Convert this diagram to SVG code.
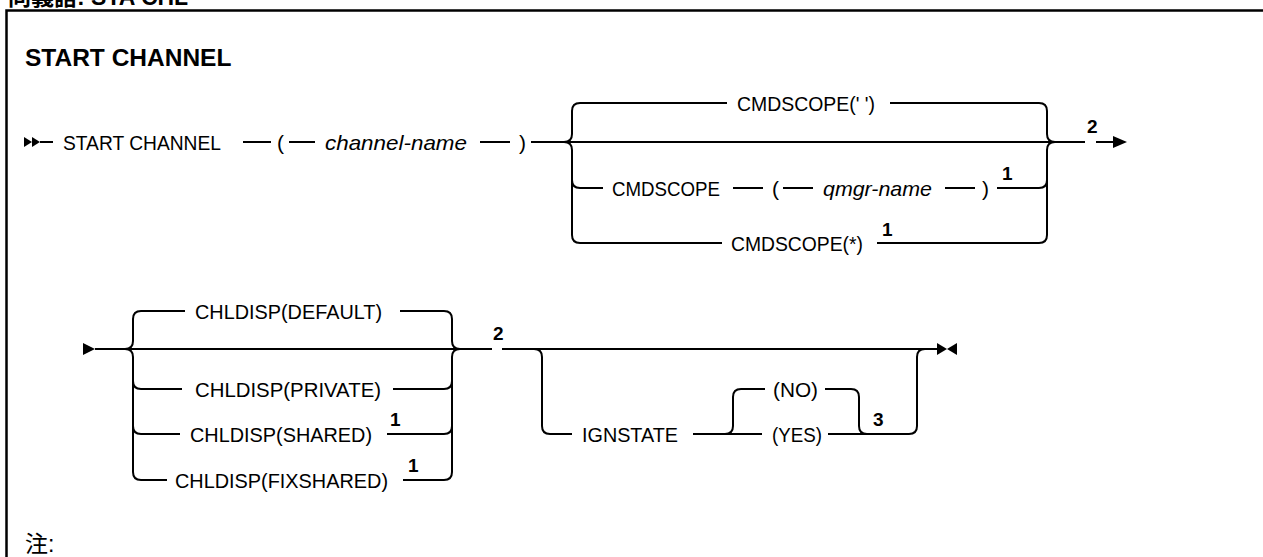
<svg xmlns="http://www.w3.org/2000/svg" width="1263" height="557" viewBox="0 0 1263 557">
<style>
.t{font-family:"Liberation Sans",Arial,sans-serif;font-size:21px;fill:#000}
.i{font-style:italic}
.n{font-family:"Liberation Sans",Arial,sans-serif;font-size:19px;font-weight:bold;fill:#000}
.h{font-family:"Liberation Sans",Arial,sans-serif;font-size:24.5px;font-weight:bold;fill:#000}
.cj{font-family:"Liberation Sans","Noto Sans CJK JP",sans-serif;font-size:23px;fill:#000}
.ln{fill:none;stroke:#000;stroke-width:2}
.fr{fill:none;stroke:#000;stroke-width:2.5}
.mk{fill:#000;stroke:none}
</style>
<rect width="1263" height="557" fill="#fff"/>
<g id="frame">
<text class="cj" x="8" y="5" font-weight="bold">同義語: STA CHL</text>
<path class="fr" d="M6.5,557 V10.5 H1263"/>
<text class="h" x="25" y="66">START CHANNEL</text>
<text class="cj" x="25" y="552">注:</text>
</g>
<g id="connectors">
<polygon class="mk" points="24,137 32,142 24,147"/>
<polygon class="mk" points="32,137 40,142 32,147"/>
<path class="ln" d="M40,142 H53"/>
<path class="ln" d="M243,142 H271"/>
<path class="ln" d="M289,142 H315"/>
<path class="ln" d="M480,142 H510"/>
<path class="ln" d="M531,142 H1085"/>
<path class="ln" d="M1096,142 H1114"/>
<polygon class="mk" points="1113,136 1127,142 1113,148"/>
<path class="ln" d="M564,142 Q572,142 572,134 V111 Q572,103 580,103 H727"/>
<path class="ln" d="M564,142 Q572,142 572,150 V235 Q572,243 580,243 H722"/>
<path class="ln" d="M572,180 Q572,188 580,188 H603"/>
<path class="ln" d="M733,188 H763"/>
<path class="ln" d="M783,188 H813"/>
<path class="ln" d="M945,188 H975"/>
<path class="ln" d="M997,188 H1039 Q1047,188 1047,180"/>
<path class="ln" d="M890,103 H1039 Q1047,103 1047,111 V134 Q1047,142 1055,142"/>
<path class="ln" d="M877,243 H1039 Q1047,243 1047,235 V150 Q1047,142 1055,142"/>
<polygon class="mk" points="83,343 95,349 83,355"/>
<path class="ln" d="M95,349 H492"/>
<path class="ln" d="M502,349 H937"/>
<polygon class="mk" points="937,343 947,349 937,355"/>
<polygon class="mk" points="957,343 947,349 957,355"/>
<path class="ln" d="M125,349 Q133,349 133,341 V319 Q133,311 141,311 H185"/>
<path class="ln" d="M125,349 Q133,349 133,357 V472 Q133,480 141,480 H167"/>
<path class="ln" d="M133,381 Q133,389 141,389 H182"/>
<path class="ln" d="M133,426 Q133,434 141,434 H180"/>
<path class="ln" d="M400,311 H444 Q452,311 452,319 V341 Q452,349 460,349"/>
<path class="ln" d="M403,480 H444 Q452,480 452,472 V357 Q452,349 460,349"/>
<path class="ln" d="M393,389 H444 Q452,389 452,381"/>
<path class="ln" d="M387,434 H444 Q452,434 452,426"/>
<path class="ln" d="M534,349 Q542,349 542,357 V426 Q542,434 550,434 H572"/>
<path class="ln" d="M693,434 H762"/>
<path class="ln" d="M725,434 Q733,434 733,426 V397 Q733,389 741,389 H765"/>
<path class="ln" d="M825,389 H851 Q859,389 859,397 V426 Q859,434 867,434"/>
<path class="ln" d="M828,434 H909 Q917,434 917,426 V357 Q917,349 925,349"/>
</g>
<g id="n-start"><text class="t" x="63" y="149.5" textLength="158" lengthAdjust="spacingAndGlyphs">START CHANNEL</text></g>
<g id="n-lp1"><text class="t" x="277" y="149.5">(</text></g>
<g id="n-channel-name"><text class="t i" x="325" y="149.5" textLength="142" lengthAdjust="spacingAndGlyphs">channel-name</text></g>
<g id="n-rp1"><text class="t" x="519" y="149.5">)</text></g>
<g id="n-cmdscope-blank"><text class="t" x="737" y="110.5" textLength="138" lengthAdjust="spacingAndGlyphs">CMDSCOPE(' ')</text></g>
<g id="n-cmdscope"><text class="t" x="612" y="195.5" textLength="108" lengthAdjust="spacingAndGlyphs">CMDSCOPE</text></g>
<g id="n-lp2"><text class="t" x="772" y="195.5">(</text></g>
<g id="n-qmgr-name"><text class="t i" x="823" y="195.5" textLength="109" lengthAdjust="spacingAndGlyphs">qmgr-name</text></g>
<g id="n-rp2"><text class="t" x="982" y="195.5">)</text></g>
<g id="n-note1a"><text class="n" x="1002" y="180">1</text></g>
<g id="n-cmdscope-star"><text class="t" x="731" y="250.5" textLength="132" lengthAdjust="spacingAndGlyphs">CMDSCOPE(*)</text></g>
<g id="n-note1b"><text class="n" x="882" y="236">1</text></g>
<g id="n-note2a"><text class="n" x="1087" y="133">2</text></g>
<g id="n-default"><text class="t" x="195" y="318.5" textLength="187" lengthAdjust="spacingAndGlyphs">CHLDISP(DEFAULT)</text></g>
<g id="n-private"><text class="t" x="195" y="396.5" textLength="186" lengthAdjust="spacingAndGlyphs">CHLDISP(PRIVATE)</text></g>
<g id="n-shared"><text class="t" x="190" y="441.5" textLength="182" lengthAdjust="spacingAndGlyphs">CHLDISP(SHARED)</text></g>
<g id="n-note1c"><text class="n" x="390" y="426">1</text></g>
<g id="n-fixshared"><text class="t" x="175" y="487.5" textLength="213" lengthAdjust="spacingAndGlyphs">CHLDISP(FIXSHARED)</text></g>
<g id="n-note1d"><text class="n" x="408" y="472">1</text></g>
<g id="n-note2b"><text class="n" x="493" y="340">2</text></g>
<g id="n-ignstate"><text class="t" x="582" y="441.5" textLength="96" lengthAdjust="spacingAndGlyphs">IGNSTATE</text></g>
<g id="n-no"><text class="t" x="773" y="396.5" textLength="45" lengthAdjust="spacingAndGlyphs">(NO)</text></g>
<g id="n-yes"><text class="t" x="772" y="441.5" textLength="50" lengthAdjust="spacingAndGlyphs">(YES)</text></g>
<g id="n-note3"><text class="n" x="873" y="426">3</text></g>
</svg>
